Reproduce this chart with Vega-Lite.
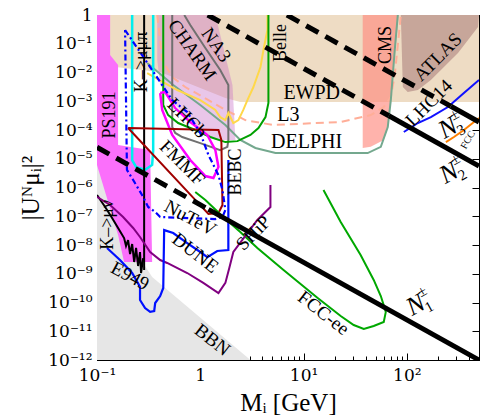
{
"$schema":"https://vega.github.io/schema/vega-lite/v6.json",
"width":382,"height":345,
"autosize":{"type":"none"},
"padding":{"left":97,"top":15,"right":1,"bottom":59},
"background":"white",
"config":{"view":{"stroke":"black","strokeWidth":1},
"axis":{"domainColor":"black","tickColor":"black","labelFont":"DejaVu Serif","titleFont":"Liberation Serif","labelFontSize":17,"titleFontSize":25,"titleFontWeight":"normal","labelColor":"black","titleColor":"black","grid":false,"labelOverlap":false,"labelBound":false,"labelFlush":false},
"text":{"font":"Liberation Serif","fontSize":19,"align":"center","baseline":"middle","color":"black"}},
"datasets":{
"ewpd":[{"m":0.1,"u":1},{"m":500,"u":1},{"m":500,"u":9.4e-4},{"m":2.44,"u":9.4e-4},{"m":1.75,"u":1.3e-3},{"m":0.409,"u":0.0104},{"m":0.1,"u":0.0182}],
"bbn":[{"m":0.1,"u":2e-5},{"m":0.187,"u":2.23e-8},{"m":0.342,"u":7.7e-10},{"m":3.06,"u":1e-12},{"m":0.1,"u":1e-12}],
"ps191":[{"m":0.1,"u":1},{"m":0.134,"u":1},{"m":0.134,"u":0.0406},{"m":0.16,"u":0.0182},{"m":0.16,"u":3e-5},{"m":0.327,"u":2e-5},{"m":0.342,"u":2.56e-9},{"m":0.183,"u":2.56e-9},{"m":0.16,"u":2.23e-8},{"m":0.1,"u":6.1e-6}],
"charm":[{"m":0.383,"u":1},{"m":1.4,"u":1},{"m":2.05,"u":0.00367},{"m":2.19,"u":4.5e-5},{"m":1.4,"u":4.5e-5},{"m":0.894,"u":1.49e-4},{"m":0.572,"u":7.4e-4},{"m":0.409,"u":0.00367},{"m":0.383,"u":0.0272}],
"cms":[{"m":37.4,"u":1},{"m":37.4,"u":2.37e-5},{"m":44.7,"u":2.6e-5},{"m":59.8,"u":4.5e-5},{"m":66.9,"u":2.2e-4},{"m":73.2,"u":0.007},{"m":83.6,"u":1}],
"atlas":[{"m":87.5,"u":1},{"m":91.5,"u":0.00313},{"m":102,"u":0.0021},{"m":128,"u":0.00246},{"m":171,"u":0.0055},{"m":313,"u":0.0477},{"m":489,"u":0.38},{"m":500,"u":1}],
"cyan":[{"m":0.219,"u":1},{"m":0.219,"u":9e-6},{"m":0.239,"u":5.2e-6},{"m":0.292,"u":4.1e-6},{"m":0.342,"u":6.1e-6},{"m":0.35,"u":2e-5},{"m":0.35,"u":1}],
"kmunu":[{"m":0.1,"u":5.5e-7},{"m":0.12,"u":2.1e-7},{"m":0.14,"u":8.7e-8},{"m":0.16,"u":3.9e-8},{"m":0.183,"u":1.75e-8},{"m":0.191,"u":9.2e-9},{"m":0.2,"u":1.49e-8},{"m":0.209,"u":4.86e-9},{"m":0.219,"u":1.08e-8},{"m":0.229,"u":2.56e-9},{"m":0.239,"u":7.9e-9},{"m":0.25,"u":1.86e-9},{"m":0.261,"u":5.7e-9},{"m":0.267,"u":1.06e-9},{"m":0.28,"u":3.5e-9}],
"kvert":[{"m":0.286,"u":1},{"m":0.286,"u":1.35e-9}],
"bluedash":[{"m":0.187,"u":0.3},{"m":0.342,"u":0.0122},{"m":0.535,"u":0.0011},{"m":0.748,"u":4.2e-4},{"m":1.0,"u":7.9e-5},{"m":1.2,"u":1.35e-5},{"m":1.5,"u":2.7e-6},{"m":1.64,"u":8.2e-7},{"m":1.75,"u":1.65e-7},{"m":1.64,"u":9.4e-8},{"m":1.4,"u":8e-8},{"m":0.409,"u":9.4e-8},{"m":0.366,"u":1.41e-7},{"m":0.313,"u":2.1e-7},{"m":0.273,"u":5.5e-7},{"m":0.224,"u":1.82e-6},{"m":0.195,"u":4.1e-6},{"m":0.187,"u":0.3}],
"red":[{"m":0.2,"u":1.17e-4},{"m":1.5,"u":1e-4},{"m":1.6,"u":4.5e-5},{"m":1.64,"u":2.46e-7},{"m":1.5,"u":1.3e-7},{"m":1.2,"u":1.2e-7},{"m":0.894,"u":3.7e-7},{"m":0.2,"u":1.17e-4}],
"magenta":[{"m":0.409,"u":1.94e-3},{"m":0.457,"u":2.1e-3},{"m":0.572,"u":5.8e-4},{"m":0.8,"u":1.9e-4},{"m":1.17,"u":6.7e-5},{"m":1.4,"u":2e-5},{"m":1.5,"u":5.2e-6},{"m":1.34,"u":2.14e-6},{"m":1.12,"u":2.51e-6},{"m":0.8,"u":9e-6},{"m":0.535,"u":6.7e-5},{"m":0.428,"u":5e-4},{"m":0.409,"u":1.94e-3}],
"greenu":[{"m":0.438,"u":1},{"m":0.438,"u":7.4e-4},{"m":0.489,"u":3.3e-4},{"m":0.611,"u":1.75e-4},{"m":0.894,"u":1e-4},{"m":1.25,"u":5.7e-5},{"m":1.75,"u":3.8e-5},{"m":2.29,"u":4.1e-5},{"m":3.06,"u":6.7e-5},{"m":3.66,"u":1.17e-4},{"m":4.28,"u":2.8e-4},{"m":4.57,"u":8.7e-4},{"m":4.57,"u":1}],
"fccee":[{"m":0.894,"u":7e-7},{"m":1.12,"u":3.7e-7},{"m":1.67,"u":9.4e-8},{"m":2.44,"u":2.83e-8},{"m":3.57,"u":7.9e-9},{"m":6.4,"u":1.35e-9},{"m":13.7,"u":1.44e-10},{"m":22.9,"u":3.39e-11},{"m":30.6,"u":1.65e-11},{"m":38.3,"u":1.2e-11},{"m":47.8,"u":1.52e-11},{"m":59.8,"u":2.1e-11},{"m":62.6,"u":4.7e-11},{"m":56,"u":1.68e-10},{"m":47.8,"u":6.1e-10},{"m":35.7,"u":4.5e-9},{"m":22.9,"u":6.3e-8},{"m":15.6,"u":8.2e-7}],
"ship":[{"m":0.1,"u":4.7e-7},{"m":0.134,"u":2.46e-7},{"m":0.179,"u":9.4e-8},{"m":0.224,"u":3.9e-8},{"m":0.261,"u":1.9e-8},{"m":0.327,"u":5.7e-9},{"m":0.409,"u":3e-9},{"m":0.478,"u":2.37e-9},{"m":0.748,"u":1.06e-9},{"m":1.07,"u":4.8e-10},{"m":1.5,"u":2.14e-10},{"m":1.75,"u":4.8e-10},{"m":1.91,"u":1.58e-9},{"m":2.09,"u":5.7e-9},{"m":2.86,"u":2.6e-8},{"m":3.57,"u":7.4e-8},{"m":4.78,"u":2.1e-7},{"m":4.78,"u":1.22e-6}],
"dune":[{"m":0.125,"u":7.9e-9},{"m":0.167,"u":3e-9},{"m":0.219,"u":1.06e-9},{"m":0.261,"u":3.5e-10},{"m":0.261,"u":1.22e-10},{"m":0.292,"u":6.4e-11},{"m":0.327,"u":4.7e-11},{"m":0.358,"u":5.06e-11},{"m":0.366,"u":9.6e-11},{"m":0.409,"u":1.68e-10},{"m":0.438,"u":3.19e-10},{"m":0.447,"u":3.3e-8},{"m":0.547,"u":2.6e-8},{"m":0.748,"u":1.17e-8},{"m":1.0,"u":5.7e-9},{"m":1.17,"u":3.8e-9},{"m":1.46,"u":6.2e-9},{"m":1.87,"u":6.7e-9},{"m":1.87,"u":9e-6}],
"l3":[{"m":0.383,"u":1},{"m":0.409,"u":0.135},{"m":0.428,"u":0.0272},{"m":0.535,"u":0.007},{"m":0.715,"u":0.00313},{"m":1.2,"u":0.0011},{"m":1.75,"u":5e-4},{"m":2.73,"u":2.2e-4},{"m":5.11,"u":1.49e-4},{"m":22.9,"u":1.9e-4},{"m":44.7,"u":3.3e-4},{"m":59.8,"u":6.3e-4},{"m":70,"u":0.00141},{"m":76.4,"u":0.0082},{"m":81.8,"u":0.0905},{"m":87.5,"u":1}],
"na3":[{"m":0.535,"u":1},{"m":0.535,"u":1.27e-4},{"m":0.572,"u":7.9e-5},{"m":0.669,"u":5.7e-5},{"m":1.0,"u":3.5e-5},{"m":1.56,"u":2e-5},{"m":1.83,"u":2.6e-5},{"m":1.87,"u":4.5e-5},{"m":1.87,"u":0.00367},{"m":1.56,"u":0.0122},{"m":1.12,"u":0.0712},{"m":0.8,"u":0.449},{"m":0.7,"u":1}],
"delphi":[{"m":0.306,"u":0.0214},{"m":0.547,"u":0.00367},{"m":1.0,"u":7.4e-4},{"m":1.75,"u":1.49e-4},{"m":2.44,"u":4.5e-5},{"m":3.42,"u":2.37e-5},{"m":5.35,"u":1.58e-5},{"m":41.8,"u":1.58e-5},{"m":56,"u":2.6e-5},{"m":65.4,"u":1.27e-4},{"m":70,"u":0.0011},{"m":76.4,"u":0.0607},{"m":81.8,"u":1}],
"yellow":[{"m":0.306,"u":0.0096},{"m":0.598,"u":0.00246},{"m":1.0,"u":0.0011},{"m":1.4,"u":5e-4},{"m":1.56,"u":2.8e-4},{"m":1.75,"u":2.2e-4},{"m":1.87,"u":3.9e-4},{"m":2.09,"u":1.75e-4},{"m":2.34,"u":2.2e-4},{"m":2.61,"u":5e-4},{"m":2.86,"u":0.0011},{"m":3.27,"u":0.00313},{"m":3.83,"u":0.0155},{"m":4.09,"u":0.0607},{"m":4.47,"u":0.3},{"m":4.47,"u":1}],
"lhc14":[{"m":93.5,"u":8.5e-5},{"m":128,"u":1.75e-4},{"m":171,"u":2.8e-4},{"m":250,"u":6.3e-4},{"m":357,"u":0.00194},{"m":500,"u":0.0055}],
"fcc":[{"m":239,"u":3.8e-5},{"m":286,"u":5.7e-5},{"m":357,"u":1e-4},{"m":447,"u":1.9e-4},{"m":500,"u":2.6e-4}],
"ndash":[{"s":"1","m":0.1,"u":2.5e-5},{"s":"1","m":1.2,"u":1.74e-7},{"s":"2","m":1.18,"u":1},{"s":"2","m":67,"u":3.12e-4},{"s":"3","m":6.9,"u":1},{"s":"3","m":267,"u":6.68e-4}],
"nsolid":[{"s":"1","m":1.2,"u":1.74e-7},{"s":"1","m":500,"u":1e-12},{"s":"2","m":67,"u":3.12e-4},{"s":"2","m":500,"u":5.6e-6},{"s":"3","m":267,"u":6.68e-4},{"s":"3","m":500,"u":1.9e-4}],
"lab270":[{"t":"PS191","m":0.134,"u":3.3e-4},{"t":"K–>μμπ","m":0.273,"u":0.0232},{"t":"K–>μν","m":0.128,"u":5e-8},{"t":"Belle","m":6.11,"u":0.106},{"t":"CMS","m":62.6,"u":0.0905},{"t":"BEBC","m":2.24,"u":3.46e-6}],
"lab0":[{"t":"EWPD","m":12.0,"u":1.94e-3},{"t":"L3","m":7.14,"u":3.3e-4},{"t":"DELPHI","m":10.7,"u":3.8e-5}],
"lab55":[{"t":"CHARM","m":0.836,"u":0.0607},{"t":"NA3","m":1.43,"u":0.0905}],
"lab45":[{"t":"LHCb","m":0.748,"u":2.6e-4},{"t":"FMMF","m":0.669,"u":7.1e-6}],
"lab38":[{"t":"BBN","m":1.31,"u":5e-12},{"t":"DUNE","m":0.894,"u":5.3e-9},{"t":"FCC-ee","m":15.6,"u":4.3e-11}],
"lab28":[{"t":"E949","m":0.209,"u":8.4e-10},{"t":"NuTeV","m":0.8,"u":8.7e-8}],
"labm45":[{"t":"ATLAS","m":200,"u":0.0346},{"t":"SHiP","m":3.27,"u":2.6e-8},{"t":"LHC14","m":164,"u":8.7e-4}],
"labfcc":[{"t":"FCC","m":391,"u":4.5e-5}],
"nlab":[{"d":"1","m":122,"u":8.2e-11},{"d":"2","m":256,"u":3.2e-6},{"d":"3","m":250,"u":1.17e-4}]
},
"encoding":{
"x":{"field":"m","type":"quantitative","scale":{"type":"log","domain":[0.1,500],"nice":false},"axis":null},
"y":{"field":"u","type":"quantitative","scale":{"type":"log","domain":[1e-12,1],"nice":false},"axis":null}
},
"layer":[
{"data":{"name":"ewpd"},"mark":{"type":"line","fill":"#eedcc4","strokeWidth":0,"interpolate":"linear-closed","clip":true},
 "encoding":{"order":{"value":null},
 "x":{"field":"m","type":"quantitative","scale":{"type":"log","domain":[0.1,500],"nice":false},"title":"Mᵢ [GeV]",
  "axis":{"orient":"bottom","values":[0.1,0.2,0.3,0.4,0.5,0.6,0.7,0.8,0.9,1,2,3,4,5,6,7,8,9,10,20,30,40,50,60,70,80,90,100,200,300,400,500],
  "labelExpr":"abs(log(datum.value)/LN10 - round(log(datum.value)/LN10)) > 0.01 ? '' : ['10⁻¹','1','10¹','10²'][round(log(datum.value)/LN10)+1]",
  "tickSize":{"condition":{"test":"abs(log(datum.value)/LN10 - round(log(datum.value)/LN10)) < 0.01","value":-7},"value":-4},"labelPadding":14,"titlePadding":4}},
 "y":{"field":"u","type":"quantitative","scale":{"type":"log","domain":[1e-12,1],"nice":false},"title":"|Uᴺμᵢ|²",
  "axis":{"orient":"left","values":[1e-12,2e-12,3e-12,4e-12,5e-12,6e-12,7e-12,8e-12,9e-12,1e-11,2e-11,3e-11,4e-11,5e-11,6e-11,7e-11,8e-11,9e-11,1e-10,2e-10,3e-10,4e-10,5e-10,6e-10,7e-10,8e-10,9e-10,1e-9,2e-9,3e-9,4e-9,5e-9,6e-9,7e-9,8e-9,9e-9,1e-8,2e-8,3e-8,4e-8,5e-8,6e-8,7e-8,8e-8,9e-8,1e-7,2e-7,3e-7,4e-7,5e-7,6e-7,7e-7,8e-7,9e-7,1e-6,2e-6,3e-6,4e-6,5e-6,6e-6,7e-6,8e-6,9e-6,1e-5,2e-5,3e-5,4e-5,5e-5,6e-5,7e-5,8e-5,9e-5,1e-4,2e-4,3e-4,4e-4,5e-4,6e-4,7e-4,8e-4,9e-4,0.001,0.002,0.003,0.004,0.005,0.006,0.007,0.008,0.009,0.01,0.02,0.03,0.04,0.05,0.06,0.07,0.08,0.09,0.1,0.2,0.3,0.4,0.5,0.6,0.7,0.8,0.9,1],
  "labelExpr":"abs(log(datum.value)/LN10 - round(log(datum.value)/LN10)) > 0.01 ? '' : ['10⁻¹²','10⁻¹¹','10⁻¹⁰','10⁻⁹','10⁻⁸','10⁻⁷','10⁻⁶','10⁻⁵','10⁻⁴','10⁻³','10⁻²','10⁻¹','1'][round(log(datum.value)/LN10)+12]",
  "tickSize":{"condition":{"test":"abs(log(datum.value)/LN10 - round(log(datum.value)/LN10)) < 0.01","value":-7},"value":-3},"labelPadding":12,"titlePadding":4}}}},
{"data":{"name":"bbn"},"mark":{"type":"line","fill":"#e6e6e6","strokeWidth":0,"interpolate":"linear-closed","clip":true},"encoding":{"order":{"value":null}}},
{"data":{"name":"ps191"},"mark":{"type":"line","fill":"#fb6ffb","strokeWidth":0,"interpolate":"linear-closed","clip":true},"encoding":{"order":{"value":null}}},
{"data":{"name":"charm"},"mark":{"type":"line","fill":"#c870c8","fillOpacity":0.4,"strokeWidth":0,"interpolate":"linear-closed","clip":true},"encoding":{"order":{"value":null}}},
{"data":{"name":"cms"},"mark":{"type":"line","fill":"#ff8a80","fillOpacity":0.65,"strokeWidth":0,"interpolate":"linear-closed","clip":true},"encoding":{"order":{"value":null}}},
{"data":{"name":"atlas"},"mark":{"type":"line","fill":"#a07070","fillOpacity":0.5,"strokeWidth":0,"interpolate":"linear-closed","clip":true},
 "encoding":{"order":{"value":null},
 "x":{"field":"m","type":"quantitative","scale":{"type":"log","domain":[0.1,500],"nice":false},"axis":{"orient":"top","labels":false,"title":null,"values":[0.1,0.2,0.3,0.4,0.5,0.6,0.7,0.8,0.9,1,2,3,4,5,6,7,8,9,10,20,30,40,50,60,70,80,90,100,200,300,400,500],"tickSize":{"condition":{"test":"abs(log(datum.value)/LN10 - round(log(datum.value)/LN10)) < 0.01","value":-7},"value":-4}}},
 "y":{"field":"u","type":"quantitative","scale":{"type":"log","domain":[1e-12,1],"nice":false},"axis":{"orient":"right","labels":false,"title":null,"values":[1e-12,1e-11,1e-10,1e-9,1e-8,1e-7,1e-6,1e-5,1e-4,0.001,0.01,0.1,1],"tickSize":-7}}}},
{"data":{"name":"l3"},"mark":{"type":"line","color":"#ffae98","strokeWidth":2,"strokeDash":[8,5],"clip":true},"encoding":{"order":{"value":null}}},
{"data":{"name":"delphi"},"mark":{"type":"line","color":"#74a88e","strokeWidth":2,"clip":true},"encoding":{"order":{"value":null}}},
{"data":{"name":"na3"},"mark":{"type":"line","color":"#707070","strokeWidth":2,"clip":true},"encoding":{"order":{"value":null}}},
{"data":{"name":"yellow"},"mark":{"type":"line","color":"#ffd84a","strokeWidth":2,"clip":true},"encoding":{"order":{"value":null}}},
{"data":{"name":"greenu"},"mark":{"type":"line","color":"#00a000","strokeWidth":2,"clip":true},"encoding":{"order":{"value":null}}},
{"data":{"name":"cyan"},"mark":{"type":"line","color":"#00eeee","strokeWidth":2.5,"clip":true},"encoding":{"order":{"value":null}}},
{"data":{"name":"kvert"},"mark":{"type":"line","color":"black","strokeWidth":2,"clip":true},"encoding":{"order":{"value":null}}},
{"data":{"name":"kmunu"},"mark":{"type":"line","color":"black","strokeWidth":2,"clip":true},"encoding":{"order":{"value":null}}},
{"data":{"name":"magenta"},"mark":{"type":"line","color":"#ff00ff","strokeWidth":2.5,"clip":true},"encoding":{"order":{"value":null}}},
{"data":{"name":"red"},"mark":{"type":"line","color":"#a00000","strokeWidth":2,"clip":true},"encoding":{"order":{"value":null}}},
{"data":{"name":"bluedash"},"mark":{"type":"line","color":"#0000ff","strokeWidth":2.2,"strokeDash":[6,3,2,3],"clip":true},"encoding":{"order":{"value":null}}},
{"data":{"name":"fccee"},"mark":{"type":"line","color":"#00a800","strokeWidth":2,"clip":true},"encoding":{"order":{"value":null}}},
{"data":{"name":"ship"},"mark":{"type":"line","color":"#800080","strokeWidth":2,"clip":true},"encoding":{"order":{"value":null}}},
{"data":{"name":"dune"},"mark":{"type":"line","color":"#0010ff","strokeWidth":2.2,"clip":true},"encoding":{"order":{"value":null}}},
{"data":{"name":"lhc14"},"mark":{"type":"line","color":"#1010ff","strokeWidth":2,"clip":true},"encoding":{"order":{"value":null}}},
{"data":{"name":"fcc"},"mark":{"type":"line","color":"#ff8000","strokeWidth":2,"clip":true},"encoding":{"order":{"value":null}}},
{"data":{"name":"ndash"},"mark":{"type":"line","color":"black","strokeWidth":5,"strokeDash":[14,8],"clip":true},"encoding":{"detail":{"field":"s"}}},
{"data":{"name":"nsolid"},"mark":{"type":"line","color":"black","strokeWidth":5,"clip":true},"encoding":{"detail":{"field":"s"}}},
{"data":{"name":"lab270"},"mark":{"type":"text","angle":270,"fontSize":18},"encoding":{"text":{"field":"t"}}},
{"data":{"name":"lab0"},"mark":{"type":"text","angle":0,"fontSize":20},"encoding":{"text":{"field":"t"}}},
{"data":{"name":"lab55"},"mark":{"type":"text","angle":55,"fontSize":19},"encoding":{"text":{"field":"t"}}},
{"data":{"name":"lab45"},"mark":{"type":"text","angle":45,"fontSize":19},"encoding":{"text":{"field":"t"}}},
{"data":{"name":"lab38"},"mark":{"type":"text","angle":38,"fontSize":19},"encoding":{"text":{"field":"t"}}},
{"data":{"name":"lab28"},"mark":{"type":"text","angle":28,"fontSize":19},"encoding":{"text":{"field":"t"}}},
{"data":{"name":"labm45"},"mark":{"type":"text","angle":-45,"fontSize":19},"encoding":{"text":{"field":"t"}}},
{"data":{"name":"labfcc"},"mark":{"type":"text","angle":-60,"fontSize":10},"encoding":{"text":{"field":"t"}}},
{"data":{"name":"nlab"},"mark":{"type":"text","angle":-29,"fontSize":26,"fontStyle":"italic"},"encoding":{"text":{"value":"N"}}},
{"data":{"name":"nlab"},"mark":{"type":"text","angle":-29,"fontSize":15,"align":"left","dx":8,"dy":-9},"encoding":{"text":{"value":"±"}}},
{"data":{"name":"nlab"},"mark":{"type":"text","angle":-29,"fontSize":15,"align":"left","dx":7,"dy":8},"encoding":{"text":{"field":"d"}}}
]
}
